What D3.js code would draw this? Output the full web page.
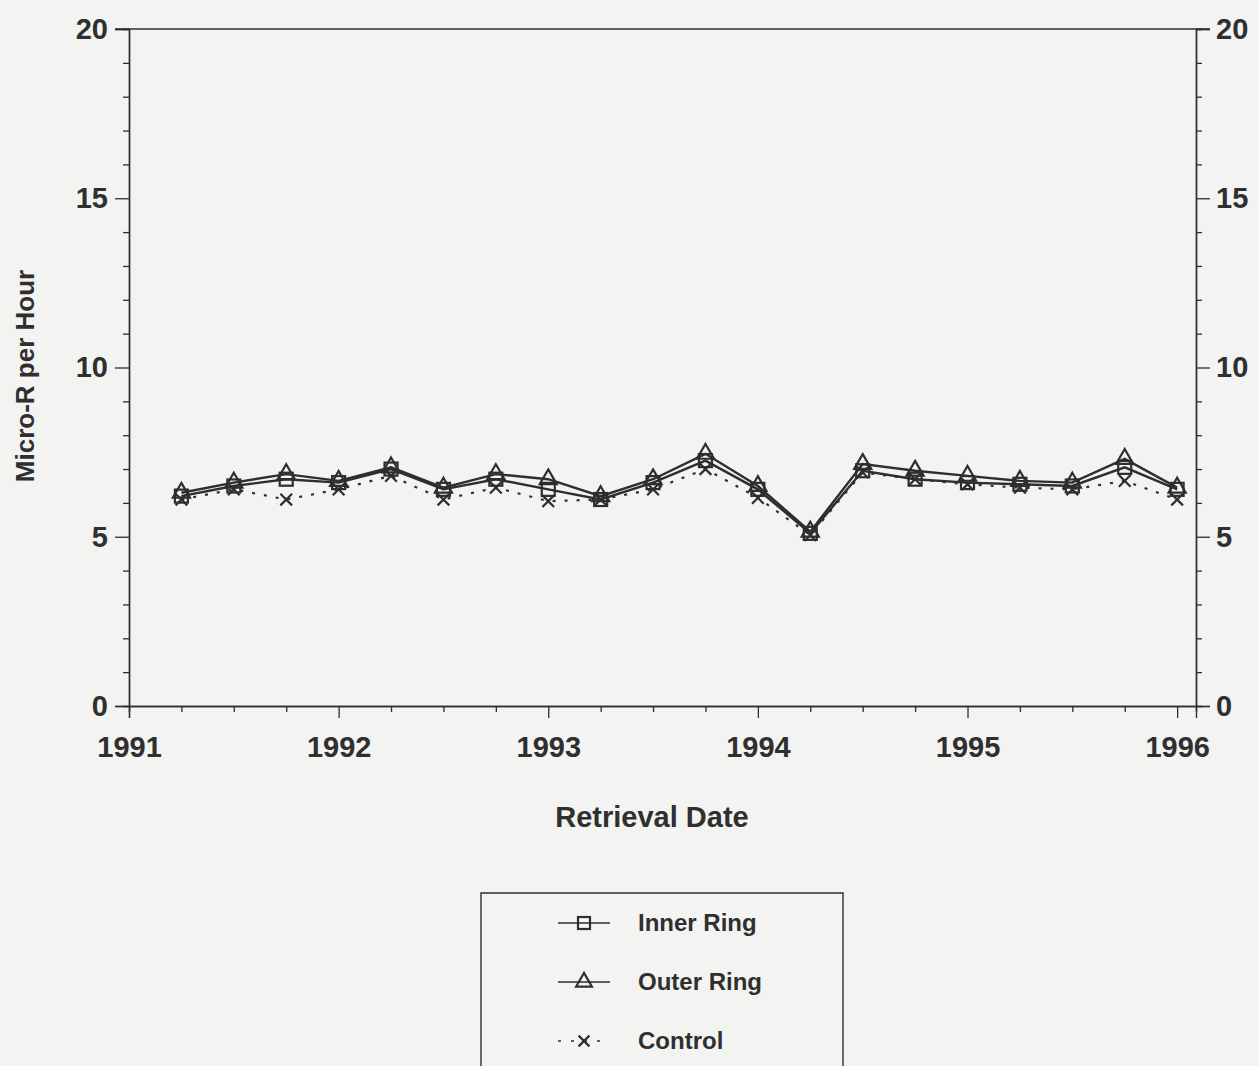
<!DOCTYPE html>
<html><head><meta charset="utf-8">
<script src="https://cdn.jsdelivr.net/npm/d3@7"></script>
<style>
html,body{margin:0;padding:0;background:#f3f3f1;}
svg{display:block;}
text{font-family:"Liberation Sans",Arial,Helvetica,sans-serif;fill:#2f2f2f;}
</style></head>
<body>
<script>
const dates = [1991.25,1991.5,1991.75,1992.0,1992.25,1992.5,1992.75,1993.0,1993.25,1993.5,1993.75,1994.0,1994.25,1994.5,1994.75,1995.0,1995.25,1995.5,1995.75,1996.0];
const innerRing = [6.2,6.5,6.7,6.6,7.0,6.4,6.7,6.4,6.1,6.6,7.25,6.4,5.1,6.95,6.7,6.6,6.55,6.5,7.05,6.4];
const outerRing = [6.3,6.6,6.85,6.65,7.05,6.45,6.85,6.7,6.2,6.7,7.45,6.5,5.15,7.15,6.95,6.8,6.65,6.6,7.3,6.45];
const control   = [6.1,6.4,6.1,6.4,6.8,6.1,6.45,6.05,6.1,6.4,7.0,6.15,5.05,6.9,6.7,6.55,6.45,6.4,6.65,6.1];
const xTicks = [1991,1992,1993,1994,1995,1996];
const yTicks = [0,5,10,15,20];
const seriesNames = ["Inner Ring","Outer Ring","Control"];

const W = 1259, H = 1066;
const svg = d3.select("body").append("svg").attr("width",W).attr("height",H);
const x = d3.scaleLinear().domain([1991, 1996.09]).range([129, 1196]);
const y = d3.scaleLinear().domain([0, 20]).range([706, 29]);
const ink = "#2e2e2e";

// Left axis
const gL = svg.append("g").attr("transform",`translate(${x(1991)},0)`);
gL.call(d3.axisLeft(y).tickValues(yTicks).tickSize(14).tickPadding(7).tickFormat(d3.format("d")));
gL.append("g").call(d3.axisLeft(y).tickValues(d3.range(0,21).filter(v=>v%5)).tickSize(6).tickFormat(""));
// Right axis
const gR = svg.append("g").attr("transform",`translate(${x.range()[1]},0)`);
gR.call(d3.axisRight(y).tickValues(yTicks).tickSize(14).tickPadding(6).tickFormat(d3.format("d")));
gR.append("g").call(d3.axisRight(y).tickValues(d3.range(0,21).filter(v=>v%5)).tickSize(6).tickFormat(""));
// Bottom axis
const gB = svg.append("g").attr("transform",`translate(0,${y(0)})`);
gB.call(d3.axisBottom(x).tickValues(xTicks).tickSize(12).tickPadding(18).tickFormat(d3.format("d")));
gB.append("g").call(d3.axisBottom(x).tickValues(d3.range(1991,1996.01,0.25).filter(v=>v%1)).tickSize(6).tickFormat(""));
// Top frame line
svg.append("line").attr("x1",x(1991)-14).attr("x2",x.range()[1]+14).attr("y1",y(20)).attr("y2",y(20))
  .attr("stroke",ink).attr("stroke-width",1.3);

svg.selectAll(".domain").attr("stroke",ink).attr("stroke-width",1.4);
svg.selectAll(".tick line").attr("stroke",ink).attr("stroke-width",1.3);
svg.selectAll(".tick text").attr("font-size",29).attr("font-weight","bold").style("fill","#2f2f2f");

// Axis titles
svg.append("text").attr("x",652).attr("y",827).attr("text-anchor","middle").attr("font-size",29).attr("font-weight","bold").text("Retrieval Date");
svg.append("text").attr("transform","translate(34,376) rotate(-90)").attr("text-anchor","middle").attr("font-size",26).attr("font-weight","bold").text("Micro-R per Hour");

// Series
const series = [
  {name:seriesNames[0], vals:innerRing, dash:null, marker:"square"},
  {name:seriesNames[1], vals:outerRing, dash:null, marker:"triangle"},
  {name:seriesNames[2], vals:control, dash:"3,9", marker:"cross"}
];
const line = d3.line().x((d,i)=>x(dates[i])).y(d=>y(d));
series.forEach(s=>{
  svg.append("path").datum(s.vals).attr("d",line).attr("fill","none")
    .attr("stroke",ink).attr("stroke-width",s.dash?2.2:2.4).attr("stroke-dasharray",s.dash);
});
function marker(g, type, cx, cy, sz){
  if(type==="square"){
    g.append("rect").attr("x",cx-sz/2).attr("y",cy-sz/2).attr("width",sz).attr("height",sz)
      .attr("fill","none").attr("stroke",ink).attr("stroke-width",2.2);
  } else if(type==="triangle"){
    g.append("path").attr("d",d3.symbol(d3.symbolTriangle, sz*sz*0.75)()).attr("transform",`translate(${cx},${cy})`)
      .attr("fill","none").attr("stroke",ink).attr("stroke-width",2.2);
  } else {
    const r = sz*0.45;
    g.append("path").attr("d",`M${cx-r},${cy-r}L${cx+r},${cy+r}M${cx-r},${cy+r}L${cx+r},${cy-r}`)
      .attr("stroke",ink).attr("stroke-width",2.2);
  }
}
series.forEach(s=>{
  const g = svg.append("g");
  s.vals.forEach((v,i)=>marker(g, s.marker, x(dates[i]), y(v), 13));
});

// Legend
const lg = svg.append("g");
lg.append("path").attr("d","M481,1066V893H843V1066").attr("fill","none").attr("stroke",ink).attr("stroke-width",1.4);
series.forEach((s,i)=>{
  const cy = 923 + i*59;
  lg.append("line").attr("x1",558).attr("x2",610).attr("y1",cy).attr("y2",cy)
    .attr("stroke",ink).attr("stroke-width",1.6).attr("stroke-dasharray",s.dash?"3,10":null);
  marker(lg, s.marker, 584, cy, 12);
  lg.append("text").attr("x",638).attr("y",cy).attr("dy","0.35em").attr("font-size",24).attr("font-weight","bold").text(s.name);
});
</script>
</body></html>
